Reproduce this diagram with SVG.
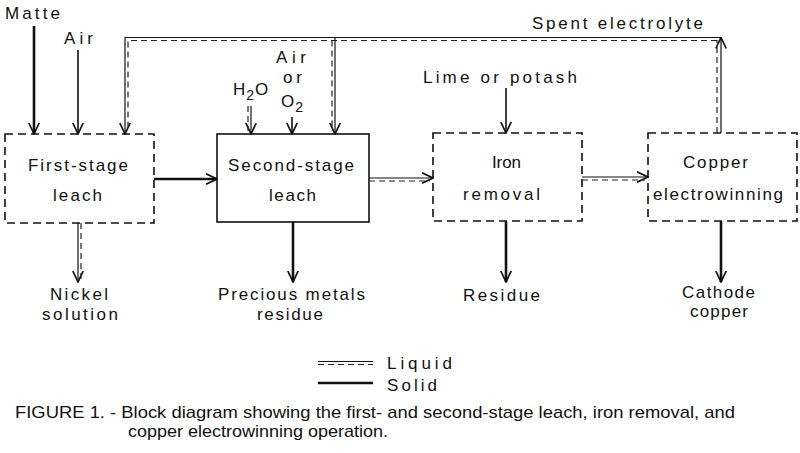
<svg xmlns="http://www.w3.org/2000/svg" width="800" height="453" viewBox="0 0 800 453">
<defs>
<style>
text{font-family:"Liberation Sans","DejaVu Sans",sans-serif;font-size:17px;fill:#111}
.cap{font-size:17px}
.box{fill:#fff;stroke:#111;stroke-width:1.6}
.dbox{stroke-dasharray:8 5}
.solid{fill:none;stroke:#111;stroke-width:2.6}
.thin{fill:none;stroke:#111;stroke-width:1.6}
.liq{fill:none;stroke:#111;stroke-width:1.2}
.liqd{fill:none;stroke:#222;stroke-width:1.2;stroke-dasharray:6 4}
</style>
<marker id="ah" viewBox="0 0 12 12" refX="11.5" refY="6" markerWidth="12" markerHeight="12" markerUnits="userSpaceOnUse" orient="auto">
<path d="M0.5,0.8 L11.5,6 L0.5,11.2" fill="none" stroke="#111" stroke-width="1.7"/>
</marker>
</defs>
<rect width="800" height="453" fill="#fff"/>

<g id="first-stage-leach">
<rect class="box dbox" x="5" y="134" width="149" height="89"/>
<text x="28" y="171" textLength="100" lengthAdjust="spacing">First-stage</text>
<text x="53" y="201" textLength="49" lengthAdjust="spacing">leach</text>
</g>
<g id="second-stage-leach">
<rect class="box" x="217" y="134" width="152" height="88"/>
<text x="228" y="171" textLength="126" lengthAdjust="spacing">Second-stage</text>
<text x="269" y="201" textLength="47" lengthAdjust="spacing">leach</text>
</g>
<g id="iron-removal">
<rect class="box dbox" x="433" y="133" width="149" height="88"/>
<text x="492" y="168" textLength="29" lengthAdjust="spacing">Iron</text>
<text x="463" y="200" textLength="77" lengthAdjust="spacing">removal</text>
</g>
<g id="copper-electrowinning">
<rect class="box dbox" x="648" y="133" width="149" height="88"/>
<text x="683" y="168" textLength="65" lengthAdjust="spacing">Copper</text>
<text x="653" y="200" textLength="130" lengthAdjust="spacing">electrowinning</text>
</g>

<g id="inputs-outputs">
<text x="5" y="19" textLength="55" lengthAdjust="spacing">Matte</text>
<text x="64" y="44" textLength="29" lengthAdjust="spacing">Air</text>
<text x="233" y="95" letter-spacing="1">H<tspan font-size="14" dy="5">2</tspan><tspan dy="-5">O</tspan></text>
<text x="276" y="63" textLength="30" lengthAdjust="spacing">Air</text>
<text x="283" y="83" textLength="19" lengthAdjust="spacing">or</text>
<text x="281" y="107" letter-spacing="1">O<tspan font-size="14" dy="5">2</tspan></text>
<text x="423" y="83" textLength="154" lengthAdjust="spacing">Lime or potash</text>
<text x="532" y="29" textLength="171" lengthAdjust="spacing">Spent electrolyte</text>
<text x="50" y="300" textLength="58" lengthAdjust="spacing">Nickel</text>
<text x="42" y="320" textLength="76" lengthAdjust="spacing">solution</text>
<text x="218" y="300" textLength="147" lengthAdjust="spacing">Precious metals</text>
<text x="257" y="320" textLength="66" lengthAdjust="spacing">residue</text>
<text x="463" y="301" textLength="77" lengthAdjust="spacing">Residue</text>
<text x="682" y="298" textLength="73" lengthAdjust="spacing">Cathode</text>
<text x="690" y="317" textLength="58" lengthAdjust="spacing">copper</text>
</g>

<g id="connectors">
<line class="solid" x1="34" y1="26" x2="34" y2="134" marker-end="url(#ah)"/>
<line class="thin" x1="78" y1="50" x2="78" y2="134" marker-end="url(#ah)"/>
<line class="liq" x1="251" y1="106" x2="251" y2="134" marker-end="url(#ah)"/>
<line class="liqd" x1="248" y1="106" x2="248" y2="131"/>
<line class="thin" x1="292" y1="117" x2="292" y2="134" marker-end="url(#ah)"/>
<line class="thin" x1="506" y1="88" x2="506" y2="133" marker-end="url(#ah)"/>
<line class="liq" x1="721" y1="133" x2="721" y2="37.5" marker-end="url(#ah)"/>
<line class="liqd" x1="717" y1="133" x2="717" y2="40"/>
<polyline class="liq" points="721,37.5 125,37.5 125,134" marker-end="url(#ah)"/>
<polyline class="liqd" points="717,40.5 128,40.5 128,131"/>
<line class="liq" x1="335" y1="37.5" x2="335" y2="134" marker-end="url(#ah)"/>
<line class="liqd" x1="332" y1="40.5" x2="332" y2="131"/>
<line class="solid" x1="154" y1="179" x2="217" y2="179" marker-end="url(#ah)"/>
<line class="liq" x1="369" y1="178" x2="433" y2="178" marker-end="url(#ah)"/>
<line class="liqd" x1="369" y1="181" x2="430" y2="181"/>
<line class="liq" x1="582" y1="177" x2="648" y2="177" marker-end="url(#ah)"/>
<line class="liqd" x1="582" y1="180" x2="645" y2="180"/>
<line class="liq" x1="78" y1="223" x2="78" y2="282" marker-end="url(#ah)"/>
<line class="liqd" x1="81" y1="223" x2="81" y2="279"/>
<line class="solid" x1="293" y1="222" x2="293" y2="282" marker-end="url(#ah)"/>
<line class="solid" x1="506" y1="221" x2="506" y2="282" marker-end="url(#ah)"/>
<line class="solid" x1="721" y1="221" x2="721" y2="282" marker-end="url(#ah)"/>
</g>

<g id="legend">
<line class="liq" x1="318" y1="361.5" x2="373" y2="361.5"/>
<line class="liqd" x1="318" y1="364.5" x2="373" y2="364.5"/>
<text x="387" y="369" textLength="65" lengthAdjust="spacing">Liquid</text>
<line class="solid" x1="318" y1="383" x2="373" y2="383"/>
<text x="387" y="391" textLength="50" lengthAdjust="spacing">Solid</text>
</g>

<g id="caption">
<text class="cap" x="15" y="418" textLength="720" lengthAdjust="spacingAndGlyphs">FIGURE 1. - Block diagram showing the first- and second-stage leach, iron removal, and</text>
<text class="cap" x="128" y="437" textLength="260" lengthAdjust="spacingAndGlyphs">copper electrowinning operation.</text>
</g>
</svg>
